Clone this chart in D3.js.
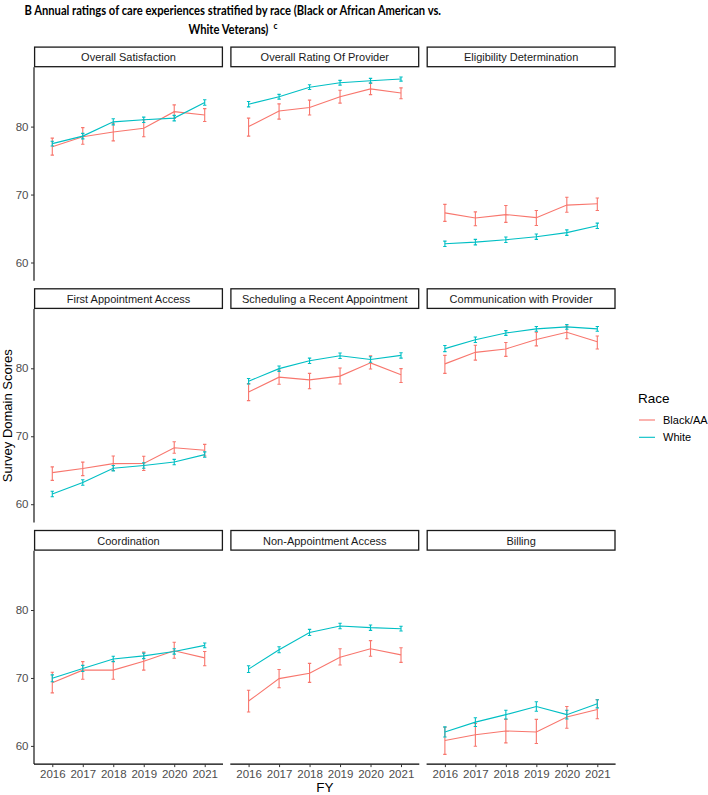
<!DOCTYPE html>
<html>
<head>
<meta charset="utf-8">
<script src="https://cdn.jsdelivr.net/npm/d3@7"></script>
<style>
  html, body { margin: 0; padding: 0; background: #ffffff; }
  svg { display: block; }
</style>
</head>
<body>
<svg id="chart" width="708" height="795"></svg>
<script>
// ---------------- DATA ----------------
const years = ["2016", "2017", "2018", "2019", "2020", "2021"];
const domains = [
  "Overall Satisfaction", "Overall Rating Of Provider", "Eligibility Determination",
  "First Appointment Access", "Scheduling a Recent Appointment", "Communication with Provider",
  "Coordination", "Non-Appointment Access", "Billing"
];
const races = ["Black/AA", "White"];
const yTicks = [60, 70, 80];

const blackMean = [
  [77.05, 78.5, 79.2, 79.75, 82.2, 81.7],
  [80.0, 82.3, 82.8, 84.4, 85.55, 84.95],
  [67.3, 66.55, 67.05, 66.6, 68.45, 68.65],
  [64.65, 65.25, 65.97, 66.0, 68.3, 67.95],
  [76.5, 78.7, 78.3, 78.85, 80.8, 79.05],
  [80.65, 82.35, 82.85, 84.25, 85.3, 83.9],
  [69.3, 71.15, 71.15, 72.45, 74.0, 72.95],
  [66.6, 69.9, 70.7, 73.05, 74.3, 73.4],
  [60.8, 61.65, 62.2, 62.05, 64.25, 65.35]
];
const blackLower = [
  [75.8, 77.4, 77.9, 78.5, 81.2, 80.75],
  [78.6, 81.1, 81.7, 83.45, 84.7, 84.1],
  [66.05, 65.4, 65.9, 65.45, 67.4, 67.65],
  [63.5, 64.2, 64.95, 64.95, 67.5, 67.1],
  [75.25, 77.65, 77.0, 77.7, 79.9, 77.9],
  [79.25, 81.2, 81.75, 83.3, 84.35, 82.85],
  [67.8, 69.8, 69.8, 71.15, 72.9, 71.8],
  [65.0, 68.55, 69.35, 71.9, 73.2, 72.3],
  [58.75, 59.95, 60.45, 60.35, 62.6, 64.0]
];
const blackUpper = [
  [78.3, 79.85, 80.5, 81.0, 83.2, 82.65],
  [81.25, 83.35, 83.9, 85.35, 86.4, 85.7],
  [68.55, 67.45, 68.4, 67.65, 69.6, 69.5],
  [65.5, 66.2, 67.1, 67.05, 69.2, 68.8],
  [77.75, 79.75, 79.25, 80.05, 81.85, 79.95],
  [81.9, 83.4, 83.8, 85.3, 86.2, 84.75],
  [70.85, 72.4, 72.45, 73.8, 75.25, 73.9],
  [68.2, 71.25, 72.15, 74.3, 75.5, 74.45],
  [62.75, 63.3, 63.9, 63.9, 65.8, 66.8]
];
const whiteMean = [
  [77.5, 78.6, 80.7, 81.0, 81.25, 83.55],
  [83.3, 84.4, 85.8, 86.45, 86.75, 87.0],
  [62.75, 63.0, 63.35, 63.8, 64.4, 65.4],
  [61.5, 63.2, 65.3, 65.7, 66.2, 67.3],
  [78.1, 79.95, 81.1, 81.85, 81.3, 81.9],
  [82.9, 84.2, 85.2, 85.8, 86.1, 85.8],
  [69.95, 71.4, 72.8, 73.25, 73.9, 74.8],
  [71.3, 74.15, 76.7, 77.65, 77.4, 77.25],
  [62.05, 63.5, 64.6, 65.8, 64.6, 66.2]
];
const whiteLower = [
  [77.15, 78.2, 80.25, 80.6, 80.85, 83.15],
  [82.9, 84.05, 85.45, 86.1, 86.4, 86.7],
  [62.35, 62.6, 62.95, 63.4, 64.0, 65.0],
  [61.1, 62.8, 64.9, 65.3, 65.8, 66.9],
  [77.7, 79.55, 80.7, 81.45, 80.9, 81.5],
  [82.45, 83.8, 84.85, 85.45, 85.75, 85.45],
  [69.45, 70.95, 72.4, 72.85, 73.5, 74.45],
  [70.8, 73.7, 76.25, 77.25, 77.0, 76.9],
  [61.3, 62.85, 63.95, 65.1, 63.95, 65.6]
];
const whiteUpper = [
  [77.85, 79.0, 81.15, 81.4, 81.65, 83.95],
  [83.7, 84.75, 86.15, 86.8, 87.1, 87.3],
  [63.15, 63.4, 63.75, 64.2, 64.8, 65.8],
  [61.9, 63.6, 65.7, 66.1, 66.6, 67.7],
  [78.5, 80.35, 81.5, 82.25, 81.7, 82.3],
  [83.35, 84.6, 85.55, 86.15, 86.45, 86.15],
  [70.45, 71.85, 73.2, 73.65, 74.3, 75.15],
  [71.8, 74.6, 77.15, 78.05, 77.8, 77.6],
  [62.8, 64.15, 65.25, 66.5, 65.25, 66.8]
];

// ---------------- LAYOUT ----------------
const colors = {"Black/AA": "#F8766D", "White": "#00BFC4"};
const panelW = 189, panelH = 213.4, stripH = 20.8;
const panelLefts = [34, 230.3, 426.6];
const panelTops = [67.3, 309, 550.7];
const sansFont = "'Liberation Sans', Arial, sans-serif";

const svg = d3.select("#chart");

// y scale with ggplot-like 5% expansion of the data range
const allLow = d3.min([...blackLower.flat(), ...whiteLower.flat()]);
const allHigh = d3.max([...blackUpper.flat(), ...whiteUpper.flat()]);
const pad = (allHigh - allLow) * 0.05;
const y = d3.scaleLinear().domain([allLow - pad, allHigh + pad]).range([panelH, 0]);
const x = d3.scalePoint().domain(years).range([0, panelW]).padding(0.6);
const capHalf = x.step() * 0.055;

const series = [
  {race: "Black/AA", mean: blackMean, lo: blackLower, hi: blackUpper},
  {race: "White", mean: whiteMean, lo: whiteLower, hi: whiteUpper}
];

domains.forEach((dom, di) => {
  const col = di % 3, row = Math.floor(di / 3);
  const g = svg.append("g").attr("transform", `translate(${panelLefts[col]},${panelTops[row]})`);

  // strip
  const sg = svg.append("g").attr("transform", `translate(${panelLefts[col]},${panelTops[row] - stripH})`);
  sg.append("rect").attr("x", 0.6).attr("y", 0.6).attr("width", panelW - 1.2).attr("height", stripH - 1.2)
    .attr("fill", "#ffffff").attr("stroke", "#1a1a1a").attr("stroke-width", 1.3);
  sg.append("text").attr("x", panelW / 2).attr("y", stripH / 2 + 0.5)
    .attr("text-anchor", "middle").attr("dominant-baseline", "central")
    .attr("font-family", sansFont).attr("font-size", 11)
    .attr("fill", "#1a1a1a").text(dom);

  // axes on outer panels
  if (col === 0) {
    const ya = g.append("g").call(d3.axisLeft(y).tickValues(yTicks).tickSize(3).tickPadding(2.5));
    ya.select(".domain").attr("stroke", "#000").attr("stroke-width", 1.1)
      .attr("d", `M0,${panelH}V0`);
    ya.selectAll(".tick line").attr("stroke", "#333").attr("stroke-width", 1);
    ya.selectAll(".tick text").attr("fill", "#4d4d4d").attr("font-size", 11.5)
      .attr("font-family", sansFont);
  }
  if (row === 2) {
    const xa = g.append("g").attr("transform", `translate(0,${panelH})`)
      .call(d3.axisBottom(x).tickSize(3).tickPadding(3));
    xa.select(".domain").attr("stroke", "#000").attr("stroke-width", 1.1).attr("d", `M0,0H${panelW}`);
    xa.selectAll(".tick line").attr("stroke", "#333").attr("stroke-width", 1);
    xa.selectAll(".tick text").attr("fill", "#4d4d4d").attr("font-size", 11.5)
      .attr("font-family", sansFont);
  }

  series.forEach(s => {
    const pts = years.map((yr, i) => ({yr, m: s.mean[di][i], lo: s.lo[di][i], hi: s.hi[di][i]}));
    const line = d3.line().x(d => x(d.yr)).y(d => y(d.m));
    g.append("path").datum(pts).attr("d", line).attr("fill", "none")
      .attr("stroke", colors[s.race]).attr("stroke-width", 1.1);
    const eb = g.append("g").attr("stroke", colors[s.race]).attr("stroke-width", 1.1).attr("fill", "none");
    eb.selectAll("path").data(pts).join("path")
      .attr("d", d => {
        const cx = x(d.yr), y0 = y(d.lo), y1 = y(d.hi);
        return `M${cx - capHalf},${y1}H${cx + capHalf}M${cx},${y1}V${y0}M${cx - capHalf},${y0}H${cx + capHalf}`;
      });
  });
});

// axis titles
svg.append("text").attr("transform", `translate(7,${(panelTops[0] + panelTops[2] + panelH) / 2}) rotate(-90)`)
  .attr("text-anchor", "middle").attr("dominant-baseline", "central")
  .attr("font-family", sansFont).attr("font-size", 13)
  .attr("fill", "#000").text("Survey Domain Scores");
svg.append("text").attr("x", (panelLefts[0] + panelLefts[2] + panelW) / 2).attr("y", 792)
  .attr("text-anchor", "middle")
  .attr("font-family", sansFont).attr("font-size", 13.5)
  .attr("fill", "#000").text("FY");

// legend
const lg = svg.append("g").attr("transform", "translate(638,0)");
lg.append("text").attr("x", 0).attr("y", 398).attr("dominant-baseline", "central")
  .attr("font-family", sansFont).attr("font-size", 13.5)
  .attr("fill", "#000").text("Race");
races.forEach((r, i) => {
  const cy = 420 + i * 17.3;
  lg.append("line").attr("x1", 1).attr("x2", 17).attr("y1", cy).attr("y2", cy)
    .attr("stroke", colors[r]).attr("stroke-width", 1.1);
  lg.append("text").attr("x", 25).attr("y", cy).attr("dominant-baseline", "central")
    .attr("font-family", sansFont).attr("font-size", 11)
    .attr("fill", "#000").text(r);
});

// title (horizontally condensed bold to mimic Calibri)
const tFont = "Lato, 'Open Sans', sans-serif";
const fs = 13.5;
const titleLine1 = "B Annual ratings of care experiences stratified by race (Black or African American vs.";
const titleLine2 = "White Veterans)";
const titleSup = "c";

const g1 = svg.append("g");
const t1 = g1.append("text").attr("x", 0).attr("y", 15).attr("text-anchor", "start")
  .attr("font-family", tFont).attr("font-weight", "bold").attr("font-size", fs).attr("fill", "#000")
  .text(titleLine1);
const w1 = t1.node().getComputedTextLength();
const squeeze = 417 / w1;
g1.attr("transform", `translate(${233 - 417 / 2},0) scale(${squeeze},1)`);

const g2 = svg.append("g");
const t2 = g2.append("text").attr("x", 0).attr("y", 34).attr("text-anchor", "start")
  .attr("font-family", tFont).attr("font-weight", "bold").attr("font-size", fs).attr("fill", "#000")
  .text(titleLine2);
const w2 = t2.node().getComputedTextLength();
const gapSup = 6;
const sup = g2.append("text").attr("x", w2 + gapSup).attr("y", 29.5).attr("text-anchor", "start")
  .attr("font-family", tFont).attr("font-weight", "bold").attr("font-size", 10).attr("fill", "#000")
  .text(titleSup);
const wc = sup.node().getComputedTextLength();
const total2 = (w2 + gapSup + wc) * squeeze;
g2.attr("transform", `translate(${233 - total2 / 2},0) scale(${squeeze},1)`);
</script>
</body>
</html>
